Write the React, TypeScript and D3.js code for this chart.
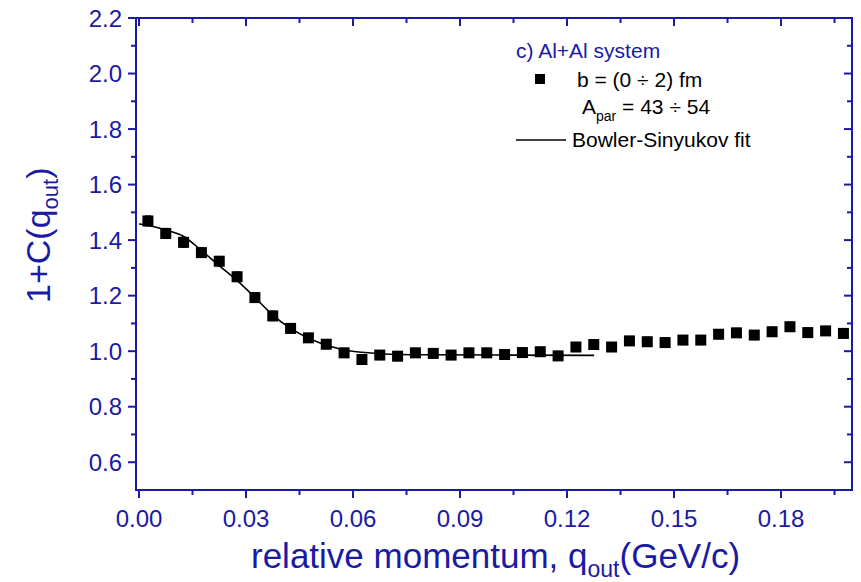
import React from "react";
import * as d3 from "d3";

const qValues = [
  0.0025, 0.0075, 0.0125, 0.0175, 0.0225, 0.0275, 0.0325, 0.0375, 0.0425, 0.0475,
  0.0525, 0.0575, 0.0625, 0.0675, 0.0725, 0.0775, 0.0825, 0.0875, 0.0925, 0.0975,
  0.1025, 0.1075, 0.1125, 0.1175, 0.1225, 0.1275, 0.1325, 0.1375, 0.1425, 0.1475,
  0.1525, 0.1575, 0.1625, 0.1675, 0.1725, 0.1775, 0.1825, 0.1875, 0.1925, 0.1975,
];
const cValues = [
  1.469, 1.424, 1.392, 1.355, 1.324, 1.268, 1.193, 1.127, 1.082, 1.048,
  1.025, 0.994, 0.970, 0.986, 0.982, 0.994, 0.992, 0.986, 0.994, 0.994,
  0.988, 0.995, 0.998, 0.983, 1.015, 1.024, 1.015, 1.037, 1.034, 1.031,
  1.040, 1.040, 1.061, 1.066, 1.058, 1.070, 1.088, 1.067, 1.073, 1.064,
];
const cErrors = [
  0.012, 0.012, 0.012, 0.011, 0.011, 0.011, 0.011, 0.011, 0.010, 0.010,
  0.010, 0.010, 0.010, 0.010, 0.010, 0.010, 0.010, 0.010, 0.010, 0.010,
  0.010, 0.010, 0.010, 0.010, 0.010, 0.010, 0.010, 0.010, 0.010, 0.010,
  0.010, 0.010, 0.010, 0.010, 0.010, 0.010, 0.010, 0.010, 0.010, 0.010,
];
const fitQ = [0.0, 0.0012, 0.0075, 0.0124, 0.0174, 0.0223, 0.0274, 0.0323, 0.0375, 0.0425, 0.0477, 0.0526, 0.0576, 0.0625, 0.0676, 0.08, 0.1, 0.1276];
const fitC = [1.458, 1.456, 1.436, 1.414, 1.364, 1.310, 1.256, 1.196, 1.130, 1.082, 1.046, 1.022, 1.004, 0.996, 0.991, 0.987, 0.986, 0.985];

const xMajorTicks = [0, 0.03, 0.06, 0.09, 0.12, 0.15, 0.18];
const xTickLabels = ["0.00", "0.03", "0.06", "0.09", "0.12", "0.15", "0.18"];
const xMinorTicks = [0.015, 0.045, 0.075, 0.105, 0.135, 0.165, 0.195];
const yMajorTicks = [0.6, 0.8, 1.0, 1.2, 1.4, 1.6, 1.8, 2.0, 2.2];
const yTickLabels = ["0.6", "0.8", "1.0", "1.2", "1.4", "1.6", "1.8", "2.0", "2.2"];
const yMinorTicks = [0.7, 0.9, 1.1, 1.3, 1.5, 1.7, 1.9, 2.1];

const W = 861;
const H = 582;
const left = 136;
const right = 852;
const top = 18;
const bottom = 490;
const AXIS = "#1a1aa4";
const FONT = "Liberation Sans, Arial, Helvetica, sans-serif";

export default function App() {
  const x = d3.scaleLinear().domain([-0.00084, 0.1999]).range([left, right]);
  const y = d3.scaleLinear().domain([0.5, 2.2]).range([bottom, top]);
  const line = d3
    .line<number>()
    .x((_, i) => x(fitQ[i]))
    .y((d) => y(d))
    .curve(d3.curveMonotoneX);
  const fitPath = line(fitC) || "";
  const maj = 8;
  const min = 5;
  const s = 11;

  return (
    <svg
      width={W}
      height={H}
      style={{ position: "absolute", left: 0, top: 0, background: "#fff" }}
      fontFamily={FONT}
    >
      <rect x={0} y={0} width={W} height={H} fill="#fff" />
      {/* fit line */}
      <path d={fitPath} fill="none" stroke="#000" strokeWidth={1.6} />
      {/* data points */}
      {qValues.map((q, i) => {
        const cx = x(q);
        const cy = y(cValues[i]);
        const e1 = y(cValues[i] + cErrors[i]);
        const e2 = y(cValues[i] - cErrors[i]);
        return (
          <g key={i}>
            <line x1={cx} x2={cx} y1={e1 - 1.5} y2={e2 + 1.5} stroke="#000" strokeWidth={1.5} />
            <line x1={cx - 3} x2={cx + 3} y1={e1 - 1.5} y2={e1 - 1.5} stroke="#000" strokeWidth={1.5} />
            <line x1={cx - 3} x2={cx + 3} y1={e2 + 1.5} y2={e2 + 1.5} stroke="#000" strokeWidth={1.5} />
            <rect x={cx - s / 2} y={cy - s / 2} width={s} height={s} fill="#000" />
          </g>
        );
      })}
      {/* frame */}
      <rect x={left} y={top} width={right - left} height={bottom - top} fill="none" stroke={AXIS} strokeWidth={2} />
      {/* x ticks */}
      {xMajorTicks.map((t, i) => (
        <g key={"xm" + i}>
          <line x1={x(t)} x2={x(t)} y1={bottom} y2={bottom + maj} stroke={AXIS} strokeWidth={2} />
          <line x1={x(t)} x2={x(t)} y1={top} y2={top + maj} stroke={AXIS} strokeWidth={2} />
          <text x={x(t)} y={527} fontSize={24} fill={AXIS} textAnchor="middle">
            {xTickLabels[i]}
          </text>
        </g>
      ))}
      {xMinorTicks.map((t, i) => (
        <g key={"xn" + i}>
          <line x1={x(t)} x2={x(t)} y1={bottom} y2={bottom + min} stroke={AXIS} strokeWidth={2} />
          <line x1={x(t)} x2={x(t)} y1={top} y2={top + min} stroke={AXIS} strokeWidth={2} />
        </g>
      ))}
      {/* y ticks */}
      {yMajorTicks.map((t, i) => (
        <g key={"ym" + i}>
          <line x1={left - maj} x2={left} y1={y(t)} y2={y(t)} stroke={AXIS} strokeWidth={2} />
          <line x1={right - maj} x2={right} y1={y(t)} y2={y(t)} stroke={AXIS} strokeWidth={2} />
          <text x={122} y={y(t) + 8.5} fontSize={24} fill={AXIS} textAnchor="end">
            {yTickLabels[i]}
          </text>
        </g>
      ))}
      {yMinorTicks.map((t, i) => (
        <g key={"yn" + i}>
          <line x1={left - min} x2={left} y1={y(t)} y2={y(t)} stroke={AXIS} strokeWidth={2} />
          <line x1={right - min} x2={right} y1={y(t)} y2={y(t)} stroke={AXIS} strokeWidth={2} />
        </g>
      ))}
      {/* axis titles */}
      <text x={251} y={568} fontSize={35} fill={AXIS}>
        relative momentum, q
        <tspan fontSize={23} dy={9}>out</tspan>
        <tspan dy={-9}>(GeV/c)</tspan>
      </text>
      <text transform="translate(50,303) rotate(-90)" fontSize={34} fill={AXIS}>
        1+C(q
        <tspan fontSize={22} dy={8}>out</tspan>
        <tspan dy={-8}>)</tspan>
      </text>
      {/* legend */}
      <text x={516} y={58} fontSize={21} fill={AXIS}>
        c) Al+Al system
      </text>
      <rect x={535} y={74} width={10} height={10} fill="#000" />
      <text x={577} y={87} fontSize={21} fill="#000">
        b = (0 ÷ 2) fm
      </text>
      <text x={582} y={114} fontSize={21} fill="#000">
        A
        <tspan fontSize={14} dy={7}>par</tspan>
        <tspan dy={-7}> = 43 ÷ 54</tspan>
      </text>
      <line x1={516} x2={566} y1={140} y2={140} stroke="#000" strokeWidth={1.6} />
      <text x={572} y={147} fontSize={21} fill="#000">
        Bowler-Sinyukov fit
      </text>
    </svg>
  );
}
